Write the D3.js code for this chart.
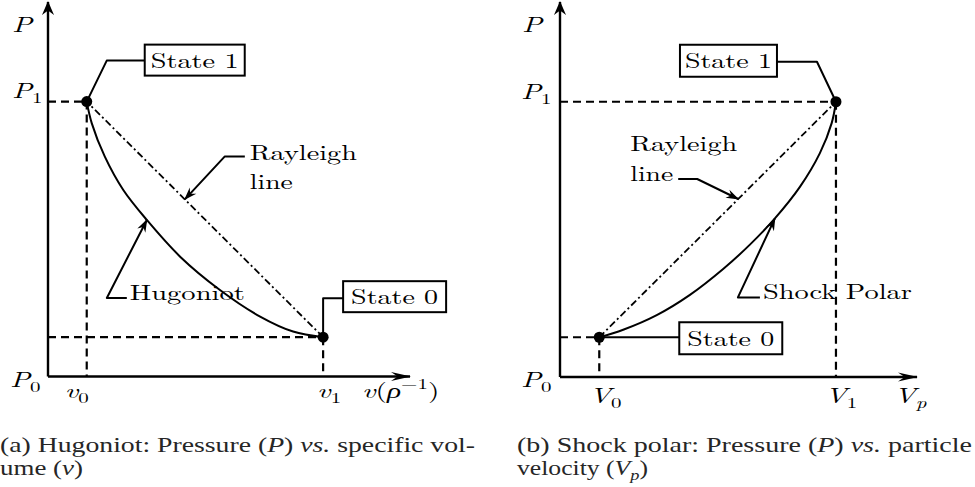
<!DOCTYPE html>
<html>
<head>
<meta charset="utf-8">
<script src="https://cdn.jsdelivr.net/npm/d3@7"></script>
<style>
  html, body { margin: 0; padding: 0; background: #fff; }
  svg { display: block; }
  text { font-family: "Latin Modern Roman", "Liberation Serif", serif; }
  text.caption { font-family: "Liberation Serif", serif; }
</style>
</head>
<body>
<svg id="chart" width="975" height="487"></svg>
<script>
// ---- data (axis units 0-100 on both axes of each panel) ----
// Hugoniot: specific volume v vs pressure P
var hugoniotV = [10.7, 12.1, 15.7, 20.8, 27.3, 36.5, 47.5, 58.6, 67.7, 76.0];
var hugoniotP = [73.4, 67.6, 58.7, 49.8, 41.8, 32.0, 23.1, 16.0, 12.0, 10.5];
// Shock polar: particle velocity Vp vs pressure P
var polarV = [11.0, 17.7, 27.1, 36.4, 45.7, 53.2, 60.2, 67.2, 72.8, 76.1, 77.3];
var polarP = [10.6, 12.6, 16.5, 21.9, 28.8, 35.3, 42.3, 50.7, 59.7, 67.7, 73.4];

// states: index 0 = State 0, index 1 = State 1
var stateNames = ["State 0", "State 1"];
var hugStateV = [76.0, 10.7];
var hugStateP = [10.5, 73.4];
var polStateV = [11.0, 77.3];
var polStateP = [10.6, 73.4];

// tick labels at the states (base letter, subscript)
var pTickLabels = [["P", "0"], ["P", "1"]];
var hugTickLabels = [["v", "1"], ["v", "0"]];
var polTickLabels = [["V", "0"], ["V", "1"]];

var svg = d3.select("#chart");

var defs = svg.append("defs");
function stealth(id, len, w) {
  defs.append("marker")
      .attr("id", id)
      .attr("markerUnits", "userSpaceOnUse")
      .attr("viewBox", "-24 -12 26 24")
      .attr("markerWidth", 26)
      .attr("markerHeight", 24)
      .attr("refX", 0)
      .attr("refY", 0)
      .attr("orient", "auto")
    .append("path")
      .attr("d", "M1,0L" + (-len) + "," + (-w) + "L" + (-len * 0.65) + ",0L" + (-len) + "," + w + "Z")
      .attr("fill", "#000");
}
stealth("arrX", 19, 4.5);
stealth("arrY", 13, 6);
stealth("arrL", 12, 4.5);

var line = d3.line().x(d => d[0]).y(d => d[1]);

// math labels: the figure is stretched horizontally, so scale glyphs in x
function mathLabel(x, y, parts) {
  var t = svg.append("text")
      .attr("transform", "translate(" + x + "," + y + ") scale(1.4,1)")
      .attr("font-size", 21)
      .attr("fill", "#000");
  var shift = 0;
  parts.forEach(function(p) {
    var s = t.append("tspan").text(p.t);
    var target = p.sub ? 5 : p.sup ? -9 : 0;
    if (target != shift) s.attr("dy", target - shift);
    shift = target;
    if (p.i) s.attr("font-style", "italic");
    if (p.sub || p.sup) s.attr("font-size", 15);
  });
}

function wordLabel(x, y, txt, len, anchor) {
  svg.append("text")
      .attr("x", x).attr("y", y)
      .attr("font-size", 21)
      .attr("text-anchor", anchor || "start")
      .attr("textLength", len)
      .attr("lengthAdjust", "spacingAndGlyphs")
      .text(txt);
}

function boxLabel(x0, y0, w, h, txt, len) {
  svg.append("rect")
      .attr("x", x0).attr("y", y0).attr("width", w).attr("height", h)
      .attr("fill", "#fff").attr("stroke", "#000").attr("stroke-width", 2);
  wordLabel(x0 + w / 2, y0 + h / 2 + 7.5, txt, len, "middle");
}

function leader(pts, arrow) {
  svg.append("path")
      .attr("d", line(pts))
      .attr("fill", "none")
      .attr("stroke", "#000")
      .attr("stroke-width", 2)
      .attr("stroke-linejoin", "round")
      .attr("marker-end", arrow ? "url(#arrL)" : null);
}

function panel(x, y, curveV, curveP, stV, stP) {
  var g = svg.append("g");
  var s0 = [x(stV[0]), y(stP[0])];
  var s1 = [x(stV[1]), y(stP[1])];

  // dashed guides
  [0, 1].forEach(function(i) {
    var px = x(stV[i]), py = y(stP[i]);
    g.append("path").attr("d", line([[x(0), py], [px, py]]));
    g.append("path").attr("d", line([[px, py], [px, y(0)]]));
  });
  g.selectAll("path")
      .attr("fill", "none").attr("stroke", "#000")
      .attr("stroke-width", 2.2).attr("stroke-dasharray", "8,5");

  // Rayleigh line
  g.append("path")
      .attr("d", line([s0, s1]))
      .attr("fill", "none").attr("stroke", "#000")
      .attr("stroke-width", 1.8).attr("stroke-dasharray", "7,3,2,3");

  // Hugoniot / shock polar curve
  var pts = curveV.map((v, i) => [x(v), y(curveP[i])]);
  g.append("path")
      .attr("d", d3.line().curve(d3.curveCatmullRom.alpha(0.5))(pts))
      .attr("fill", "none").attr("stroke", "#000").attr("stroke-width", 2);

  // axes
  g.append("line")
      .attr("x1", x(0)).attr("y1", y(0)).attr("x2", x(100)).attr("y2", y(0))
      .attr("stroke", "#000").attr("stroke-width", 2.4).attr("marker-end", "url(#arrX)");
  g.append("line")
      .attr("x1", x(0)).attr("y1", y(0)).attr("x2", x(0)).attr("y2", y(100))
      .attr("stroke", "#000").attr("stroke-width", 2.4).attr("marker-end", "url(#arrY)");

  // state points
  g.selectAll("circle.state")
      .data([s0, s1])
      .enter().append("circle")
      .attr("class", "state")
      .attr("cx", d => d[0]).attr("cy", d => d[1])
      .attr("r", 5.5).attr("fill", "#000");

  return { s0: s0, s1: s1, pts: pts };
}

// ---- left panel: Hugoniot ----
var xL = d3.scaleLinear().domain([0, 100]).range([48, 410]);
var yL = d3.scaleLinear().domain([0, 100]).range([376.5, 2]);
var L = panel(xL, yL, hugoniotV, hugoniotP, hugStateV, hugStateP);

mathLabel(12, 31.5, [{t: "P", i: 1}]);
mathLabel(12, yL(hugStateP[1]) - 3.5, [{t: pTickLabels[1][0], i: 1}, {t: pTickLabels[1][1], sub: 1}]);
mathLabel(10, yL(0) + 10, [{t: pTickLabels[0][0], i: 1}, {t: pTickLabels[0][1], sub: 1}]);
mathLabel(xL(hugStateV[1]) - 22, 398, [{t: hugTickLabels[1][0], i: 1}, {t: hugTickLabels[1][1], sub: 1}]);
mathLabel(xL(hugStateV[0]) - 6, 398, [{t: hugTickLabels[0][0], i: 1}, {t: hugTickLabels[0][1], sub: 1}]);
mathLabel(362, 398, [{t: "v", i: 1}, {t: "("}, {t: "\u03c1", i: 1}, {t: "\u22121", sup: 1}, {t: ")"}]);

// State 1
var a = L.s1;
leader([[a[0] + 58, a[1] - 41], [a[0] + 20, a[1] - 41], a]);
boxLabel(a[0] + 58, a[1] - 57, 100, 31, stateNames[1], 88);
// State 0
a = L.s0;
leader([a, [a[0], a[1] - 39], [a[0] + 20, a[1] - 39]]);
boxLabel(a[0] + 20, a[1] - 56, 103, 31, stateNames[0], 87);
// Rayleigh line label
var r = d3.interpolateArray(L.s1, L.s0)(0.415);
leader([[r[0] + 60, r[1] - 43], [r[0] + 40, r[1] - 43], r], true);
wordLabel(r[0] + 65, r[1] - 39, "Rayleigh", 107);
wordLabel(r[0] + 65, r[1] - 10, "line", 43);
// Hugoniot label
var h = L.pts[4];
leader([[h[0] - 20, h[1] + 78], [h[0] - 40, h[1] + 78], h], true);
wordLabel(h[0] - 17, h[1] + 80, "Hugoniot", 115);

// ---- right panel: shock polar ----
var xR = d3.scaleLinear().domain([0, 100]).range([560, 917]);
var yR = d3.scaleLinear().domain([0, 100]).range([377, 2]);
var R = panel(xR, yR, polarV, polarP, polStateV, polStateP);

mathLabel(522, 32, [{t: "P", i: 1}]);
mathLabel(521, yR(polStateP[1]) - 3, [{t: pTickLabels[1][0], i: 1}, {t: pTickLabels[1][1], sub: 1}]);
mathLabel(521, yR(0) + 9.5, [{t: pTickLabels[0][0], i: 1}, {t: pTickLabels[0][1], sub: 1}]);
mathLabel(xR(polStateV[0]) - 10, 403, [{t: polTickLabels[0][0], i: 1}, {t: polTickLabels[0][1], sub: 1}]);
mathLabel(xR(polStateV[1]) - 11, 403, [{t: polTickLabels[1][0], i: 1}, {t: polTickLabels[1][1], sub: 1}]);
mathLabel(894, 403, [{t: "V", i: 1}, {t: "p", i: 1, sub: 1}]);

// State 1
a = R.s1;
leader([a, [a[0] - 19, a[1] - 40], [a[0] - 59, a[1] - 40]]);
boxLabel(a[0] - 156, a[1] - 57, 97, 32, stateNames[1], 87);
// State 0
a = R.s0;
leader([a, [a[0] + 80, a[1]]]);
boxLabel(a[0] + 80, a[1] - 15, 103, 32, stateNames[0], 87);
// Rayleigh line label
r = d3.interpolateArray(R.s0, R.s1)(0.587);
leader([[r[0] - 60, r[1] - 20], [r[0] - 41, r[1] - 20], r], true);
wordLabel(r[0] - 108, r[1] - 48, "Rayleigh", 107);
wordLabel(r[0] - 108, r[1] - 18, "line", 43);
// Shock Polar label
h = R.pts[6];
leader([[h[0] - 15, h[1] + 79], [h[0] - 37, h[1] + 79], h], true);
wordLabel(h[0] - 12, h[1] + 81, "Shock Polar", 149);

// ---- captions ----
function caption(x, y, len, parts) {
  var t = svg.append("text")
      .attr("class", "caption")
      .attr("x", x).attr("y", y)
      .attr("font-size", 21)
      .attr("fill", "#262626")
      .attr("textLength", len)
      .attr("lengthAdjust", "spacingAndGlyphs");
  var shift = 0;
  parts.forEach(function(p) {
    var s = t.append("tspan").text(p.t);
    var target = p.sub ? 5 : 0;
    if (target != shift) s.attr("dy", target - shift);
    shift = target;
    if (p.i) s.attr("font-style", "italic");
    if (p.sub) s.attr("font-size", 15);
  });
}
caption(0, 452, 475, [{t: "(a) Hugoniot: Pressure ("}, {t: "P", i: 1}, {t: ") "}, {t: "vs.", i: 1}, {t: " specific vol-"}]);
caption(0, 475, 83, [{t: "ume ("}, {t: "v", i: 1}, {t: ")"}]);
caption(517, 452, 455, [{t: "(b) Shock polar: Pressure ("}, {t: "P", i: 1}, {t: ") "}, {t: "vs.", i: 1}, {t: "  particle"}]);
caption(517, 475, 131, [{t: "velocity ("}, {t: "V", i: 1}, {t: "p", i: 1, sub: 1}, {t: ")"}]);
</script>
</body>
</html>
